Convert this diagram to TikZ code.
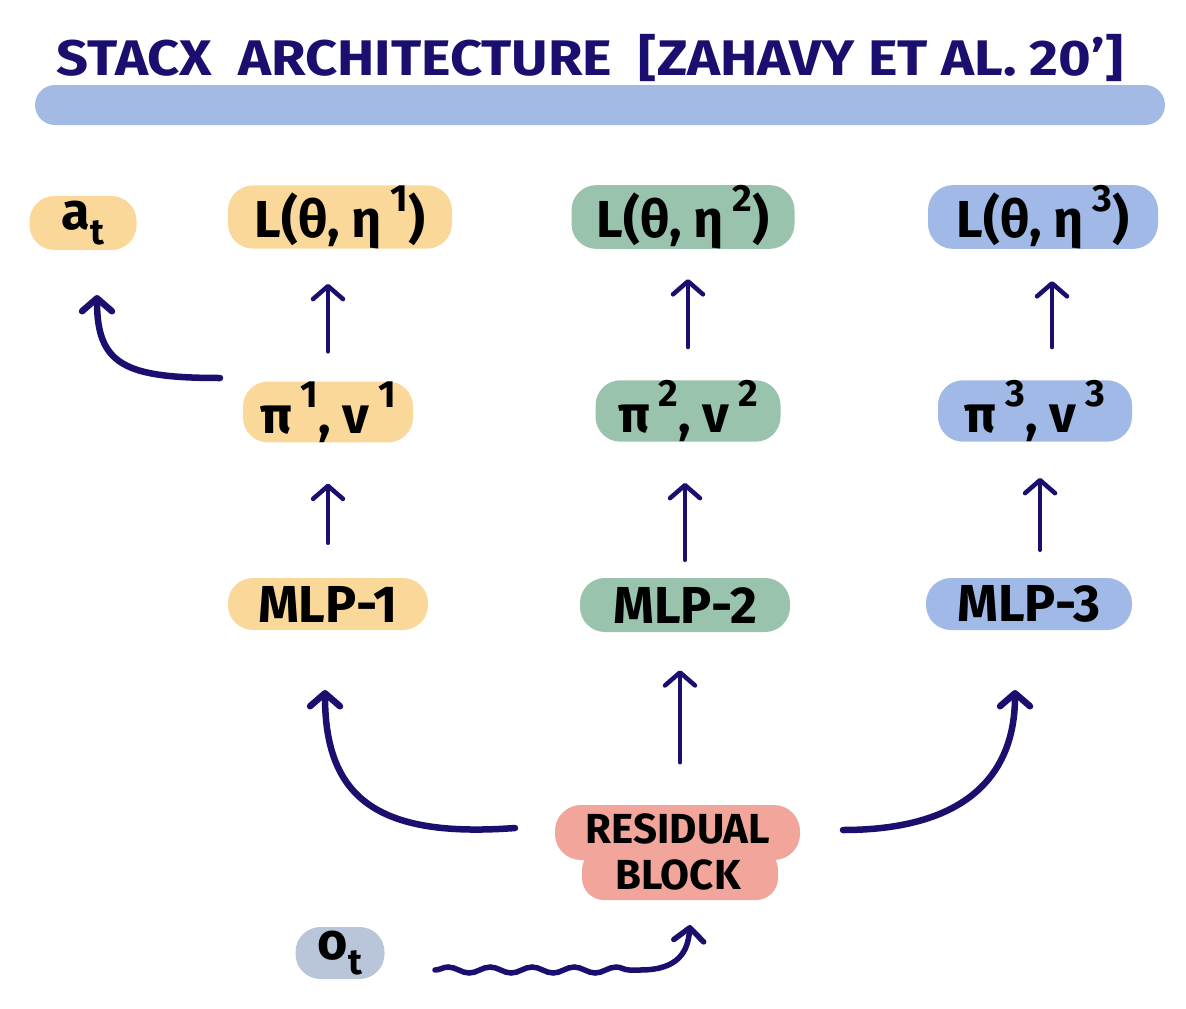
\documentclass[tikz,border=0pt]{standalone}
\usepackage{fontspec}
\setmainfont{Fira Sans}
\usetikzlibrary{arrows.meta,decorations.pathmorphing}
\definecolor{cor}{HTML}{FAD89A}
\definecolor{cgr}{HTML}{9AC3AE}
\definecolor{cbl}{HTML}{A0B9E6}
\definecolor{cbar}{HTML}{A2BAE4}
\definecolor{cred}{HTML}{F2A59A}
\definecolor{cob}{HTML}{B9C5D9}
\definecolor{navy}{HTML}{1A0F6E}
\newcommand{\hsup}[1]{\,\raisebox{0.5em}{\fontsize{38}{38}\selectfont\bfseries #1}}
\newcommand{\hsub}[1]{\raisebox{-0.28em}{\fontsize{36}{36}\selectfont\bfseries #1}}
\begin{document}
\begin{tikzpicture}[x=1pt,y=-1pt,
  pill/.style={rounded corners=25pt, inner sep=0pt, text=black,
    font=\fontsize{52}{56}\selectfont\bfseries},
  arr/.style={draw=navy, line width=4.5pt, line cap=round,
    -{Straight Barb[round,length=13pt,width=30pt]}},
  carr/.style={arr, line width=6.5pt}]
\useasboundingbox (0,0) rectangle (1186,1009);
\fill[white] (0,0) rectangle (1186,1009);
% title
\node[text=navy, font=\fontsize{50}{54}\selectfont\bfseries, xscale=1.12] (title) at (590,58) {STACX\ \ ARCHITECTURE\ \ [ZAHAVY ET AL. 20']};
\node[fill=cbar, rounded corners=20pt, minimum width=1130pt, minimum height=40pt] (bar) at (600,105) {};
% row 1
\node[pill, fill=cor, minimum width=107pt, minimum height=54pt] (at) at (83,223) {a\hsub{t}};
\node[pill, fill=cor, minimum width=224pt, minimum height=55pt] (L1) at (340,217) {L(θ, η\hsup{1})};
\node[pill, fill=cgr, minimum width=223pt, minimum height=55pt] (L2) at (683,217) {L(θ, η\hsup{2})};
\node[pill, fill=cbl, minimum width=230pt, minimum height=55pt] (L3) at (1043,217) {L(θ, η\hsup{3})};
% row 2
\node[pill, fill=cor, minimum width=170pt, minimum height=50pt] (P1) at (328,412) {π\hsup{1}, v\hsup{1}};
\node[pill, fill=cgr, minimum width=185pt, minimum height=52pt] (P2) at (688,411) {π\hsup{2}, v\hsup{2}};
\node[pill, fill=cbl, minimum width=194pt, minimum height=52pt] (P3) at (1035,411) {π\hsup{3}, v\hsup{3}};
% row 3
\node[pill, fill=cor, minimum width=200pt, minimum height=52pt] (M1) at (328,604) {MLP-1};
\node[pill, fill=cgr, minimum width=210pt, minimum height=54pt] (M2) at (685,605) {MLP-2};
\node[pill, fill=cbl, minimum width=206pt, minimum height=52pt] (M3) at (1029,604) {MLP-3};
% residual block
\fill[cred, rounded corners=26pt] (555,805) rectangle (800,860);
\fill[cred, rounded corners=22pt] (582,848) rectangle (778,900);
\node[pill, minimum width=245pt, minimum height=95pt, align=center,
  font=\fontsize{42}{46}\selectfont\bfseries] (R) at (678,852) {RESIDUAL\\BLOCK};
% o_t
\node[pill, fill=cob, minimum width=89pt, minimum height=52pt] (ot) at (340,953) {o\hsub{t}};
% straight arrows
\draw[arr, shorten <=30pt, shorten >=35pt] (P1.north) -- (P1.north |- L1.south);
\draw[arr, shorten <=35pt, shorten >=41pt] (M1.north) -- (M1.north |- P1.south);
\draw[arr, shorten <=33pt, shorten >=30pt] (P2.north) -- (P2.north |- L2.south);
\draw[arr, shorten <=18pt, shorten >=41pt] (M2.north) -- (M2.north |- P2.south);
\draw[arr, shorten <=33pt, shorten >=32pt] ([xshift=17pt]P3.north) -- ([xshift=17pt]P3.north |- L3.south);
\draw[arr, shorten <=28pt, shorten >=36pt] ([xshift=11pt]M3.north) -- ([xshift=11pt]M3.north |- P3.south);
\draw[arr, shorten <=42pt, shorten >=38pt] ([xshift=2pt]R.north) -- ([xshift=2pt]R.north |- M2.south);
% curved arrows
\coordinate (c1s) at (515,828);
\coordinate (c1e) at (325,690);
\draw[carr] (c1s) .. controls (380,838) and (325,800) .. (c1e);
\coordinate (c3s) at (843,830);
\coordinate (c3e) at (1015,690);
\draw[carr] (c3s) .. controls (960,830) and (1015,780) .. (c3e);
\coordinate (c0s) at (220,378);
\coordinate (c0e) at (97,295);
\draw[carr] (c0s) .. controls (125,378) and (97,365) .. (c0e);
% wavy arrow
\coordinate (w0) at (435,970);
\coordinate (w1) at (640,970);
\coordinate (w2) at (690,925);
\draw[carr, line width=5.5pt] (w0) decorate[decoration={snake, amplitude=3pt, segment length=42pt}] { -- (w1) } .. controls (680,970) and (688,950) .. (w2);
\end{tikzpicture}
\end{document}
